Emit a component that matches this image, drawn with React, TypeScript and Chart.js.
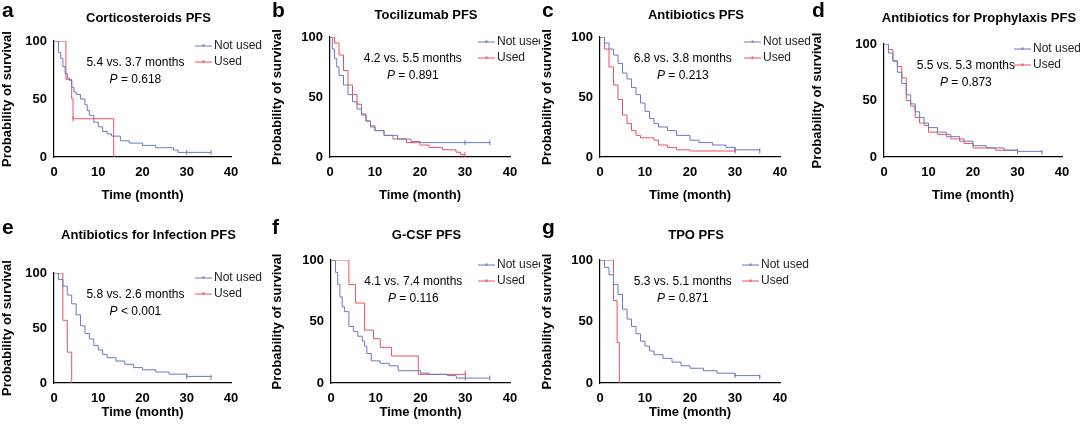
import React, { useEffect, useRef } from "react";
import { Chart, registerables } from "chart.js";
Chart.register(...registerables);

type P = [number, number];
const xTicks = [0, 10, 20, 30, 40];
const yTicks = [0, 50, 100];

const aNot: P[] = [[0,100],[1,90],[1.5,85],[2,78],[2.5,72],[3,68],[3.5,66],[4,60],[4.5,56],[5,54],[6,50],[7,45],[7.5,40],[8,36],[9,30],[10,26],[11,22],[12,20],[13,18],[15,14],[17,12],[20,10],[23,8],[27,6],[28,4],[35.5,4]];
const aUsed: P[] = [[0,100],[2.7,67],[4,50],[4.3,33],[13.5,33],[13.5,0]];
const bNot: P[] = [[0,100],[0.5,90],[1,82],[1.5,75],[2,68],[3,60],[4,52],[5,46],[6,40],[7,35],[8,30],[9,25],[10,22],[12,18],[15,15],[18,13],[20,12],[35.5,12]];
const bUsed: P[] = [[0,100],[1,95],[2,85],[3,72],[4,60],[5,52],[6,44],[7,36],[8,30],[9,26],[10,22],[12,18],[14,15],[17,12],[20,10],[22,8],[25,6],[28,4],[29,2],[30,2]];
const cNot: P[] = [[0,100],[1,95],[2,90],[3,85],[4,78],[5,70],[6,65],[7,58],[8,52],[9,45],[10,38],[11,32],[12,28],[13,25],[15,22],[17,18],[20,14],[22,12],[25,10],[28,8],[30,6],[35.5,5]];
const cUsed: P[] = [[0,100],[1,90],[2,75],[3,60],[4,48],[5,35],[6,28],[7,22],[8,18],[9,16],[12,14],[13,10],[15,8],[17,6],[20,5],[30,5]];
const dNot: P[] = [[0,100],[1,92],[2,85],[3,75],[4,65],[5,55],[6,47],[7,40],[8,35],[9,30],[10,26],[12,22],[14,18],[17,14],[20,10],[23,8],[27,6],[30,5],[35.5,4]];
const dUsed: P[] = [[0,100],[1,95],[2,85],[3,80],[4,70],[5,50],[6,45],[7,35],[8,30],[9,28],[10,22],[12,20],[15,16],[18,12],[20,8],[25,6],[30,5]];
const eNot: P[] = [[0,100],[1,94],[2,88],[3,80],[4,72],[5,62],[6,52],[7,45],[8,40],[9,34],[10,30],[11,26],[12,23],[14,20],[16,17],[18,14],[20,12],[23,10],[26,8],[30,6],[35.5,5]];
const eUsed: P[] = [[0,100],[2,57],[3,28],[4,0]];
const fNot: P[] = [[0,100],[1,90],[1.5,80],[2,70],[2.5,62],[3,58],[4,46],[5,42],[6,38],[7,34],[7.5,30],[8,24],[9,18],[11,16],[13,14],[15,10],[20,8],[22,7],[26,6],[28,4],[35.5,4]];
const fUsed: P[] = [[0,100],[4,80],[5.5,65],[7.5,43],[9.5,36],[11,29],[13.5,22],[19.5,7],[26,7],[30,8]];
const gNot: P[] = [[0,100],[1,94],[2,88],[3,80],[4,72],[5,60],[6,52],[7,46],[8,40],[9,34],[10,30],[11,26],[12,23],[14,20],[16,17],[18,14],[20,12],[23,10],[26,8],[30,6],[35.5,5]];
const gUsed: P[] = [[0,100],[3,67],[3.8,33],[4.3,0]];

const panels = [
  { letter: "a", title: "Corticosteroids PFS", med: "5.4 vs. 3.7 months", p: "= 0.618", not: aNot, used: aUsed, nc: [30, 35.5], uc: [4.3], box: [0, 0], plot: [54, 231, 41, 157], leg: 36 },
  { letter: "b", title: "Tocilizumab PFS", med: "4.2 vs. 5.5 months", p: "= 0.891", not: bNot, used: bUsed, nc: [30, 35.5], uc: [30], box: [270, 0], plot: [60, 240, 37, 157], leg: 32 },
  { letter: "c", title: "Antibiotics PFS", med: "6.8 vs. 3.8 months", p: "= 0.213", not: cNot, used: cUsed, nc: [30, 35.5], uc: [30], box: [540, 0], plot: [60, 240, 37, 157], leg: 36 },
  { letter: "d", title: "Antibiotics for Prophylaxis PFS", med: "5.5 vs. 5.3 months", p: "= 0.873", not: dNot, used: dUsed, nc: [30, 35.5], uc: [30], box: [810, 0], plot: [74, 252, 44, 157], leg: 48 },
  { letter: "e", title: "Antibiotics for Infection PFS", med: "5.8 vs. 2.6 months", p: "< 0.001", not: eNot, used: eUsed, nc: [30, 35.5], uc: [], box: [0, 217], plot: [54, 231, 56, 166], leg: 36 },
  { letter: "f", title: "G-CSF PFS", med: "4.1 vs. 7.4 months", p: "= 0.116", not: fNot, used: fUsed, nc: [30, 35.5], uc: [30], box: [270, 217], plot: [61, 240, 43, 166], leg: 32 },
  { letter: "g", title: "TPO PFS", med: "5.3 vs. 5.1 months", p: "= 0.871", not: gNot, used: gUsed, nc: [30, 35.5], uc: [], box: [540, 217], plot: [60, 240, 43, 166], leg: 38 },
];

const BLUE = "#6a78c8";
const RED = "#f0505a";
const FONT = "'Liberation Sans', Arial, sans-serif";

function valAt(s: P[], t: number) {
  let v = s[0][1];
  for (const [x, y] of s) if (x <= t) v = y;
  return v;
}

function Panel({ cfg }: { cfg: (typeof panels)[number] }) {
  const ref = useRef<HTMLCanvasElement>(null);
  useEffect(() => {
    const W = 270, H = 217;
    const [l, r, t, b] = cfg.plot;
    const deco = {
      id: "deco",
      afterDraw(chart: any) {
        const ctx = chart.ctx as CanvasRenderingContext2D;
        const ca = chart.chartArea;
        ctx.save();
        ctx.fillStyle = "#000";
        ctx.font = `bold 21px ${FONT}`;
        ctx.textBaseline = "top";
        ctx.textAlign = "left";
        ctx.fillText(cfg.letter, 2, 1);
        ctx.font = `bold 13px ${FONT}`;
        ctx.textAlign = "center";
        ctx.fillText(cfg.title, (ca.left + ca.right) / 2 + 6, Math.min(t - 28, 12));
        ctx.font = `12px ${FONT}`;
        const cx = ca.left + (ca.right - ca.left) * 0.46;
        ctx.textBaseline = "middle";
        ctx.fillText(cfg.med, cx, ca.top + 22);
        ctx.font = `italic 12px ${FONT}`;
        const pw = ctx.measureText("P ").width;
        ctx.font = `12px ${FONT}`;
        const rw = ctx.measureText(cfg.p).width;
        const sx = cx - (pw + rw) / 2;
        ctx.textAlign = "left";
        ctx.font = `italic 12px ${FONT}`;
        ctx.fillText("P ", sx, ca.top + 39);
        ctx.font = `12px ${FONT}`;
        ctx.fillText(cfg.p, sx + pw, ca.top + 39);
        const lx = ca.right - cfg.leg;
        [["Not used", BLUE, 5], ["Used", RED, 21]].forEach(([lab, col, dy]: any) => {
          ctx.strokeStyle = col;
          ctx.lineWidth = 1;
          ctx.beginPath();
          ctx.moveTo(lx, ca.top + dy);
          ctx.lineTo(lx + 17, ca.top + dy);
          ctx.stroke();
          ctx.fillStyle = col;
          ctx.fillRect(lx + 7.5, ca.top + dy - 1.5, 2, 2);
          ctx.fillStyle = "#222";
          ctx.fillText(lab, lx + 19, ca.top + dy);
        });
        ctx.restore();
      },
    };
    const mk = (s: P[]) => s.map(([x, y]) => ({ x, y }));
    const cens = (s: P[], c: number[]) => c.map((x) => ({ x, y: valAt(s, x) }));
    const chart = new Chart(ref.current!, {
      type: "line",
      data: {
        datasets: [
          { data: mk(cfg.not), borderColor: BLUE, borderWidth: 1, stepped: true, pointRadius: 0 } as any,
          { data: mk(cfg.used), borderColor: RED, borderWidth: 1, stepped: true, pointRadius: 0 } as any,
          { type: "scatter", data: cens(cfg.not, cfg.nc), pointStyle: "line", rotation: 90, radius: 2.5, borderColor: BLUE, borderWidth: 1 } as any,
          { type: "scatter", data: cens(cfg.used, cfg.uc), pointStyle: "line", rotation: 90, radius: 2.5, borderColor: RED, borderWidth: 1 } as any,
        ],
      },
      options: {
        animation: false,
        responsive: false,
        layout: { padding: { left: 0, top: t, right: W - r, bottom: 10 } },
        plugins: { legend: { display: false }, tooltip: { enabled: false } },
        scales: {
          x: {
            type: "linear", min: 0, max: 40,
            afterBuildTicks: (s: any) => { s.ticks = xTicks.map((v) => ({ value: v })); },
            afterFit: (s: any) => { s.height = H - b - 10; },
            grid: { display: false, drawTicks: true, tickLength: 4, tickColor: "#000" } as any,
            border: { color: "#000", width: 1.2 },
            ticks: { color: "#000", font: { family: FONT, size: 13, weight: "bold" }, padding: 4, maxRotation: 0 },
            title: { display: true, text: "Time (month)", color: "#000", font: { family: FONT, size: 13, weight: "bold" }, padding: { top: 3 } },
          },
          y: {
            min: 0, max: 100,
            afterBuildTicks: (s: any) => { s.ticks = yTicks.map((v) => ({ value: v })); },
            afterFit: (s: any) => { s.width = l; },
            grid: { display: false, tickLength: 4, tickColor: "#000" } as any,
            border: { color: "#000", width: 1.2 },
            ticks: { color: "#000", font: { family: FONT, size: 13, weight: "bold" }, padding: 3 },
            title: { display: true, text: "Probability of survival", color: "#000", font: { family: FONT, size: 13, weight: "bold" }, padding: 0 },
          },
        },
      },
      plugins: [deco],
    });
    return () => chart.destroy();
  }, [cfg]);
  return (
    <canvas ref={ref} width={270} height={217}
      style={{ position: "absolute", left: cfg.box[0], top: cfg.box[1], width: 270, height: 217 }} />
  );
}

export default function App() {
  return (
    <div style={{ position: "fixed", left: 0, top: 0, width: 1080, height: 434, background: "#fff" }}>
      {panels.map((p) => <Panel key={p.letter} cfg={p} />)}
    </div>
  );
}
